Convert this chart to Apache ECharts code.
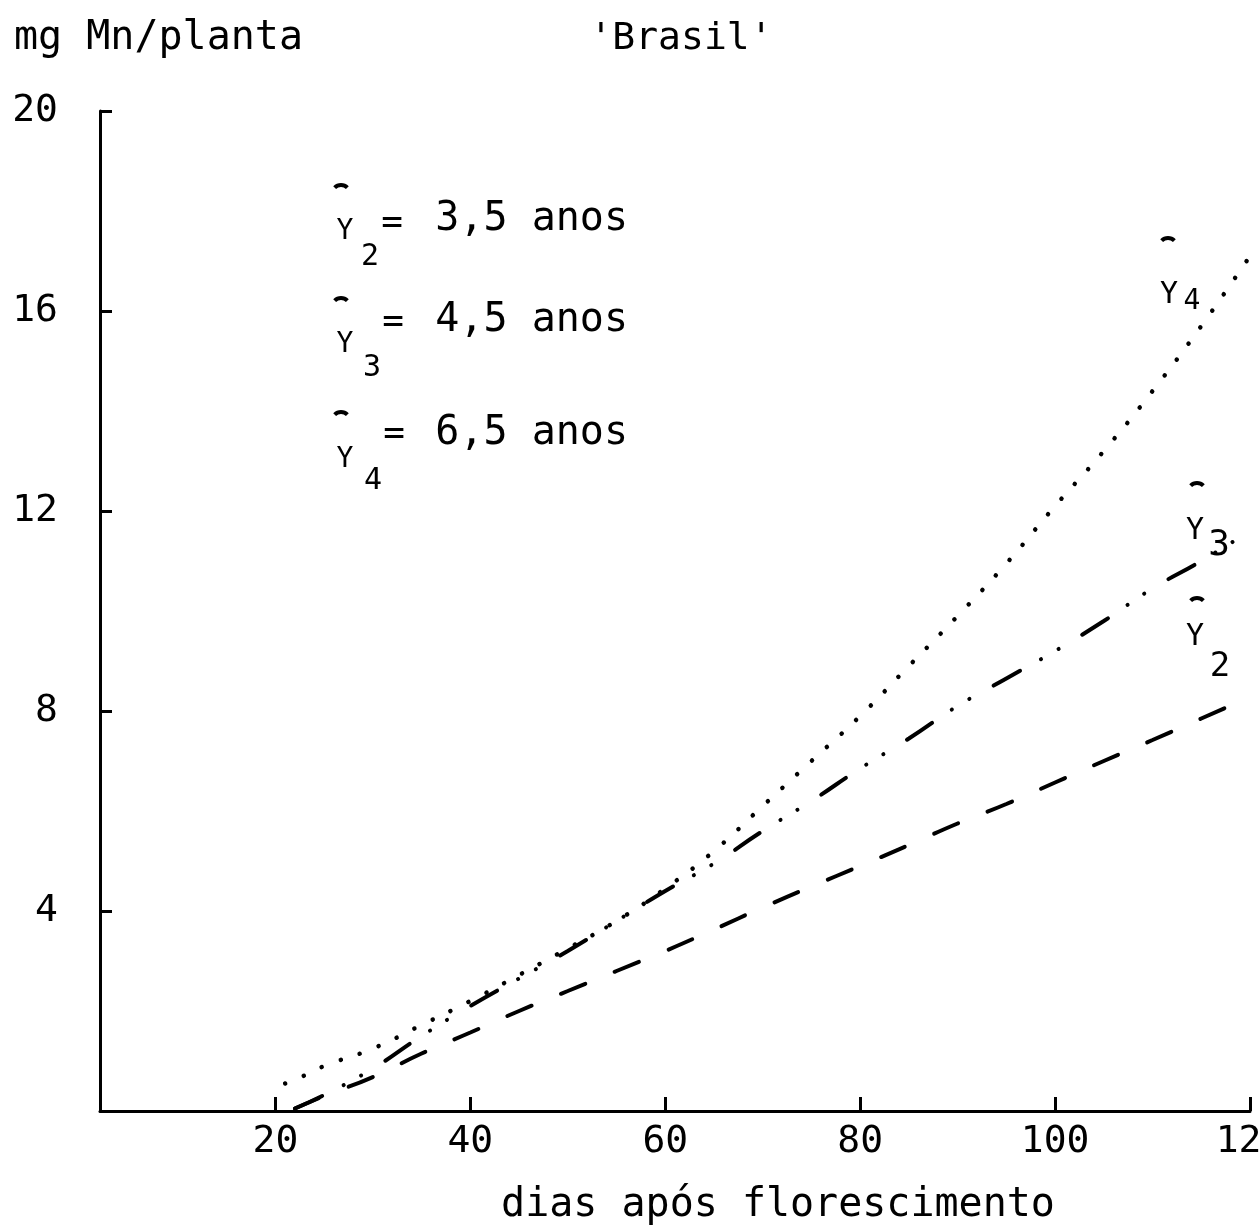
<!DOCTYPE html>
<html>
<head>
<meta charset="utf-8">
<script src="https://cdn.jsdelivr.net/npm/echarts@6/dist/echarts.min.js"></script>
<style>html,body{margin:0;padding:0;background:#fff}#c{width:1260px;height:1226px}</style>
</head>
<body>
<div id="c"></div>
<script>
// ---- data ----
const days = [21, 22, 25, 30, 35, 40, 45, 50, 55, 60, 65, 70, 75, 80, 85, 90, 95, 100, 105, 110, 115, 120];
const y2 = [null, 0.05, 0.30, 0.68, 1.15, 1.57, 2.00, 2.40, 2.80, 3.20, 3.63, 4.07, 4.49, 4.90, 5.32, 5.75, 6.14, 6.57, 7.00, 7.42, 7.85, 8.28];
const y3 = [null, 0.05, 0.32, 0.85, 1.50, 2.10, 2.65, 3.20, 3.80, 4.40, 4.95, 5.60, 6.20, 6.85, 7.45, 8.10, 8.65, 9.20, 9.80, 10.45, 11.00, 11.60];
const y4 = [0.55, 0.62, 0.90, 1.25, 1.72, 2.20, 2.72, 3.25, 3.80, 4.45, 5.20, 6.10, 7.00, 7.90, 8.90, 9.90, 10.95, 12.10, 13.20, 14.40, 15.70, 17.10];
const xTicks = [20, 40, 60, 80, 100, 120];
const yTicks = [4, 8, 12, 16, 20];
const titleText = "'Brasil'";
const yName = 'mg Mn/planta';
const xName = 'dias após florescimento';
const legendSubs = ['2', '3', '4'];
const legendValues = ['3,5 anos', '4,5 anos', '6,5 anos'];

const FONT = '"DejaVu Sans Mono", "Liberation Mono", monospace';
const chart = echarts.init(document.getElementById('c'), null, {renderer: 'canvas'});
const pair = arr => days.map((d, i) => [d, arr[i]]);

function txt(x, y, text, size, align) {
  return {type: 'text', x: x, y: y, style: {text: text, font: size + 'px ' + FONT, fill: '#000', textAlign: align || 'left', textVerticalAlign: 'middle'}};
}
function hat(cx, cy) {
  return {type: 'arc', shape: {cx: cx, cy: cy + 7, r: 9, startAngle: Math.PI * 1.25, endAngle: Math.PI * 1.75, clockwise: true}, style: {stroke: '#000', lineWidth: 4, fill: null}};
}

const graphics = [
  txt(681, 39, titleText, 38, 'center'),
  txt(14, 39, yName, 40, 'left'),
  txt(778, 1206, xName, 40, 'center'),
  // legend block
  hat(341, 187), txt(345, 232, 'Y', 28, 'center'), txt(370, 257, legendSubs[0], 30, 'center'), txt(392, 224, '=', 36, 'center'), txt(628, 220, legendValues[0], 40, 'right'),
  hat(341, 300), txt(345, 345, 'Y', 28, 'center'), txt(372, 368, legendSubs[1], 30, 'center'), txt(393, 323, '=', 36, 'center'), txt(628, 321, legendValues[1], 40, 'right'),
  hat(341, 414), txt(345, 460, 'Y', 28, 'center'), txt(373, 481, legendSubs[2], 30, 'center'), txt(394, 435, '=', 36, 'center'), txt(628, 434, legendValues[2], 40, 'right'),
  // curve labels
  hat(1168, 240), txt(1169, 295, 'Y', 30, 'center'), txt(1192, 302, legendSubs[2], 28, 'center'),
  hat(1197, 485), txt(1195, 531, 'Y', 30, 'center'), txt(1219, 546, legendSubs[1], 36, 'center'),
  hat(1197, 600), txt(1195, 637, 'Y', 30, 'center'), txt(1220, 667, legendSubs[0], 34, 'center')
];

const axisCommon = {
  axisLine: {show: true, lineStyle: {color: '#000', width: 3}},
  splitLine: {show: false}
};

chart.setOption({
  animation: false,
  backgroundColor: '#fff',
  grid: {left: 100, right: 10, top: 111, bottom: 115, containLabel: false, outerBoundsMode: 'none'},
  xAxis: Object.assign({
    type: 'value', min: 2, max: 120,
    axisTick: {show: true, inside: true, length: 14, customValues: xTicks, lineStyle: {color: '#000', width: 3}},
    axisLabel: {customValues: xTicks, fontSize: 38, fontFamily: FONT, color: '#000', margin: 12}
  }, axisCommon),
  yAxis: Object.assign({
    type: 'value', min: 0, max: 20,
    axisTick: {show: true, inside: true, length: 12, customValues: yTicks, lineStyle: {color: '#000', width: 3}},
    axisLabel: {customValues: yTicks, fontSize: 38, fontFamily: FONT, color: '#000', margin: 42}
  }, axisCommon),
  graphic: graphics,
  series: [
    {name: 'Y2', type: 'line', data: pair(y2), smooth: true, showSymbol: false, connectNulls: false,
     lineStyle: {color: '#000', width: 4, type: [26, 32], cap: 'round'}},
    {name: 'Y3', type: 'line', data: pair(y3), smooth: true, showSymbol: false, connectNulls: false,
     lineStyle: {color: '#000', width: 4, type: [30, 24, 0.1, 20, 0.1, 28], cap: 'round'}},
    {name: 'Y4', type: 'line', data: pair(y4), smooth: true, showSymbol: false,
     lineStyle: {color: '#000', width: 4.5, type: [0.1, 20], cap: 'round'}}
  ]
});
</script>
</body>
</html>
